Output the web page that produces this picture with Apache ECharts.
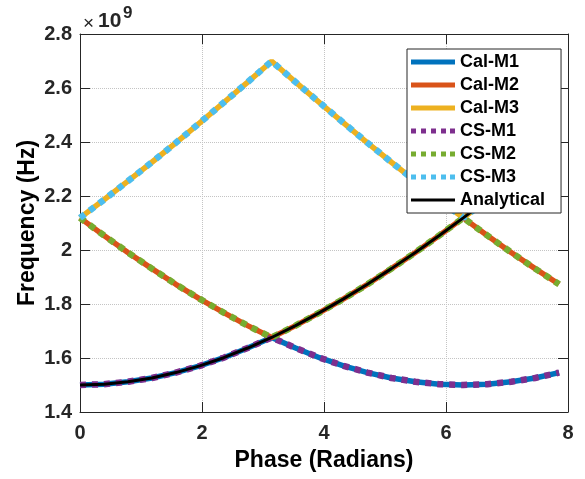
<!DOCTYPE html>
<html>
<head>
<meta charset="utf-8">
<script src="https://cdn.jsdelivr.net/npm/echarts@6/dist/echarts.min.js"></script>
<style>
	html, body { margin: 0; padding: 0; background: #fff; }
	#chart { width: 585px; height: 479px; }
</style>
</head>
<body>
<div id="chart"></div>
<script>
// phase samples (radians), k*pi/8
var phase = [0, 0.393, 0.785, 1.178, 1.571, 1.963, 2.356, 2.749, 3.142, 3.534, 3.927,
	4.320, 4.712, 5.105, 5.498, 5.890, 6.283, 6.676, 7.069, 7.461, 7.854];

// frequency in units of 1e9 Hz
var calM1 = [1.500, 1.503, 1.512, 1.526, 1.546, 1.571, 1.601, 1.637, 1.676, 1.637, 1.601,
	1.571, 1.546, 1.526, 1.512, 1.503, 1.500, 1.503, 1.512, 1.526, 1.546];
var calM2 = [2.119, 2.054, 1.991, 1.931, 1.873, 1.819, 1.768, 1.720, 1.676, 1.720, 1.768,
	1.819, 1.873, 1.931, 1.991, 2.054, 2.119, 2.054, 1.991, 1.931, 1.873];
var calM3 = [2.119, 2.186, 2.255, 2.325, 2.397, 2.471, 2.546, 2.622, 2.699, 2.622, 2.546,
	2.471, 2.397, 2.325, 2.255, 2.186, 2.119, 2.186, 2.255, 2.325, 2.397];
var csM1 = [1.500, 1.503, 1.512, 1.526, 1.546, 1.571, 1.601, 1.637, 1.676, 1.637, 1.601,
	1.571, 1.546, 1.526, 1.512, 1.503, 1.500, 1.503, 1.512, 1.526, 1.546];
var csM2 = [2.119, 2.054, 1.991, 1.931, 1.873, 1.819, 1.768, 1.720, 1.676, 1.720, 1.768,
	1.819, 1.873, 1.931, 1.991, 2.054, 2.119, 2.054, 1.991, 1.931, 1.873];
var csM3 = [2.119, 2.186, 2.255, 2.325, 2.397, 2.471, 2.546, 2.622, 2.699, 2.622, 2.546,
	2.471, 2.397, 2.325, 2.255, 2.186, 2.119, 2.186, 2.255, 2.325, 2.397];
var analytical = [1.500, 1.503, 1.512, 1.526, 1.546, 1.571, 1.601, 1.637, 1.676, 1.720, 1.768,
	1.819, 1.873, 1.931, 1.991, 2.054, 2.119, 2.186, 2.255, 2.325, 2.397];

var xTicks = [0, 2, 4, 6, 8];
var yTicks = [1.4, 1.6, 1.8, 2, 2.2, 2.4, 2.6, 2.8];

var font = 'Arial, "Liberation Sans", Helvetica, sans-serif';
var axisColor = '#262626';

// legend icons: solid bar / row of square dots / thin bar
var iconSolid = 'path://M0,0h44v5h-44z';
var iconDots = 'path://M0,0h5v5h-5zM10,0h5v5h-5zM20,0h5v5h-5zM30,0h5v5h-5zM39,0h5v5h-5z';
var iconThin = 'path://M0,1h44v3h-44z';

function pairs(ys) {
	return phase.map(function (x, i) { return [x, ys[i]]; });
}

function lineSeries(name, ys, color, width, dash) {
	return {
		name: name,
		type: 'line',
		data: pairs(ys),
		symbol: 'none',
		animation: false,
		xAxisIndex: 0,
		yAxisIndex: 0,
		lineStyle: {
			color: color,
			width: width,
			type: dash || 'solid',
			cap: 'butt'
		},
		itemStyle: { color: color }
	};
}

var chart = echarts.init(document.getElementById('chart'));

var baseX = {
	type: 'value',
	min: xTicks[0],
	max: xTicks[xTicks.length - 1],
	interval: 2,
	axisLine: { onZero: false, lineStyle: { color: axisColor, width: 1 } },
	axisTick: { inside: true, length: 10, lineStyle: { color: axisColor } }
};
var baseY = {
	type: 'value',
	min: yTicks[0],
	max: yTicks[yTicks.length - 1],
	interval: 0.2,
	axisLine: { onZero: false, lineStyle: { color: axisColor, width: 1 } },
	axisTick: { inside: true, length: 10, lineStyle: { color: axisColor } }
};

chart.setOption({
	backgroundColor: '#fff',
	grid: { left: 80, right: 17, top: 34, bottom: 67 },
	xAxis: [
		Object.assign({}, baseX, {
			position: 'bottom',
			name: 'Phase (Radians)',
			nameLocation: 'middle',
			nameGap: 37,
			nameMoveOverlap: false,
			nameTextStyle: { fontFamily: font, fontWeight: 'bold', fontSize: 23, color: '#000' },
			axisLabel: { margin: 11, fontFamily: font, fontWeight: 'bold', fontSize: 20, color: axisColor },
			splitLine: { show: true, lineStyle: { color: '#c4c4c4', type: 'dotted', width: 1 } }
		}),
		Object.assign({}, baseX, {
			position: 'top',
			axisLabel: { show: false },
			splitLine: { show: false }
		})
	],
	yAxis: [
		Object.assign({}, baseY, {
			position: 'left',
			name: 'Frequency (Hz)',
			nameLocation: 'middle',
			nameGap: 41,
			nameMoveOverlap: false,
			nameTextStyle: { fontFamily: font, fontWeight: 'bold', fontSize: 23, color: '#000' },
			axisLabel: { margin: 8, fontFamily: font, fontWeight: 'bold', fontSize: 20, color: axisColor },
			splitLine: { show: true, lineStyle: { color: '#c4c4c4', type: 'dotted', width: 1 } }
		}),
		Object.assign({}, baseY, {
			position: 'right',
			axisLabel: { show: false },
			splitLine: { show: false }
		})
	],
	legend: {
		orient: 'vertical',
		left: 407,
		top: 49,
		padding: [4, 16, 4, 4],
		itemWidth: 44,
		itemHeight: 5,
		itemGap: 5,
		backgroundColor: '#fff',
		borderColor: axisColor,
		borderWidth: 1,
		borderRadius: 0,
		textStyle: { fontFamily: font, fontWeight: 'bold', fontSize: 18, lineHeight: 18, color: '#000' },
		data: [
			{ name: 'Cal-M1', icon: iconSolid },
			{ name: 'Cal-M2', icon: iconSolid },
			{ name: 'Cal-M3', icon: iconSolid },
			{ name: 'CS-M1', icon: iconDots },
			{ name: 'CS-M2', icon: iconDots },
			{ name: 'CS-M3', icon: iconDots },
			{ name: 'Analytical', icon: iconThin }
		]
	},
	graphic: [
		{ type: 'text', left: 83, top: 14, style: { text: '\u00d7', fontFamily: font, fontSize: 19, fill: axisColor } },
		{ type: 'text', left: 98, top: 11, style: { text: '10', fontFamily: font, fontWeight: 'bold', fontSize: 21, fill: axisColor } },
		{ type: 'text', left: 123, top: 5, style: { text: '9', fontFamily: font, fontWeight: 'bold', fontSize: 17, fill: axisColor } }
	],
	series: [
		lineSeries('Cal-M1', calM1, '#0072BD', 5.5),
		lineSeries('Cal-M2', calM2, '#D95319', 5.5),
		lineSeries('Cal-M3', calM3, '#EDB120', 5.5),
		lineSeries('CS-M1', csM1, '#7E2F8E', 6.5, [6, 6]),
		lineSeries('CS-M2', csM2, '#77AC30', 6.5, [6, 6]),
		lineSeries('CS-M3', csM3, '#4DBEEE', 6.5, [6, 6]),
		lineSeries('Analytical', analytical, '#000000', 3)
	]
});
</script>
</body>
</html>
